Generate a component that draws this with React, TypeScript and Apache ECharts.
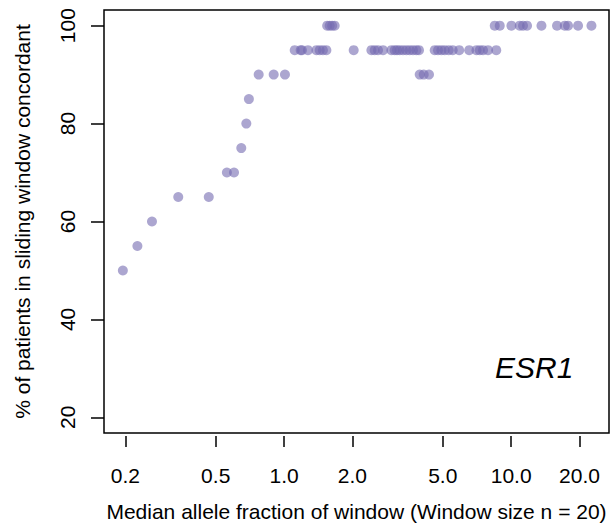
import React, { useEffect, useRef } from "react";
import * as echarts from "echarts";

// Median allele fraction (x, %) of each sliding window, grouped by % concordant (y)
const afAt50 = [0.195];
const afAt55 = [0.226];
const afAt60 = [0.262];
const afAt65 = [0.342, 0.466];
const afAt70 = [0.56, 0.602];
const afAt75 = [0.648];
const afAt80 = [0.682];
const afAt85 = [0.7];
const afAt90 = [0.773, 0.9, 1.009, 3.957, 4.121, 4.347];
const afAt95 = [
  1.114, 1.183, 1.199, 1.274, 1.388, 1.435, 1.483, 1.536, 2.026, 2.424, 2.506,
  2.593, 2.728, 2.97, 3.07, 3.143, 3.23, 3.341, 3.458, 3.575, 3.697, 3.826,
  3.929, 4.607, 4.764, 4.931, 5.099, 5.31, 5.53, 5.906, 6.537, 7.035, 7.275,
  7.522, 7.912, 8.6,
];
const afAt100 = [
  1.548, 1.588, 1.629, 1.671, 8.47, 8.91, 10.03, 10.91, 11.28, 11.75, 13.6,
  15.93, 17.23, 17.81, 19.71, 22.58,
];

const levels = [50, 55, 60, 65, 70, 75, 80, 85, 90, 95, 100];
const groups = [afAt50, afAt55, afAt60, afAt65, afAt70, afAt75, afAt80, afAt85, afAt90, afAt95, afAt100];

const xTickValues = [0.2, 0.5, 1, 2, 5, 10, 20];
const xTickLabels = ["0.2", "0.5", "1.0", "2.0", "5.0", "10.0", "20.0"];
const yTickValues = [20, 40, 60, 80, 100];

const xTitle = "Median allele fraction of window (Window size n = 20)";
const yTitle = "% of patients in sliding window concordant";
const geneLabel = "ESR1";

const FONT = '"Liberation Sans", Arial, Helvetica, sans-serif';

export default function App() {
  const ref = useRef<HTMLDivElement>(null);
  useEffect(() => {
    if (!ref.current) return;
    const chart = echarts.init(ref.current, null, { renderer: "svg" });
    const points: number[][] = [];
    groups.forEach((g, i) => {
      g.forEach((x) => points.push([Math.log10(x), levels[i]]));
    });
    points.sort((a, b) => a[0] - b[0]);
    const xTickLogs = xTickValues.map((v) => Math.log10(v));
    const fmtX = (v: number) => {
      let best = 0;
      xTickLogs.forEach((t, i) => {
        if (Math.abs(t - v) < Math.abs(xTickLogs[best] - v)) best = i;
      });
      return xTickLabels[best];
    };
    chart.setOption({
      animation: false,
      grid: {
        left: 104,
        top: 10,
        width: 505,
        height: 423,
        show: true,
        borderColor: "#000",
        borderWidth: 1.5,
        backgroundColor: "transparent",
      },
      xAxis: {
        type: "value",
        min: -0.793,
        max: 1.431,
        offset: 3,
        axisLine: { show: false, onZero: false },
        splitLine: { show: false },
        axisTick: {
          show: true,
          length: 11,
          customValues: xTickLogs,
          lineStyle: { color: "#000", width: 1.5 },
        },
        axisLabel: {
          customValues: xTickLogs,
          margin: 29,
          color: "#000",
          fontSize: 21,
          fontFamily: FONT,
          formatter: (v: number) => fmtX(v),
        },
        name: xTitle,
        nameLocation: "middle",
        nameGap: 65,
        nameTextStyle: { color: "#000", fontSize: 21, fontFamily: FONT },
      },
      yAxis: {
        type: "value",
        min: 16.8,
        max: 103.2,
        axisLine: { show: false, onZero: false },
        splitLine: { show: false },
        axisTick: {
          show: true,
          length: 13,
          customValues: yTickValues,
          lineStyle: { color: "#000", width: 1.5 },
        },
        axisLabel: {
          customValues: yTickValues,
          rotate: 90,
          margin: 26,
          color: "#000",
          fontSize: 21,
          fontFamily: FONT,
        },
        name: yTitle,
        nameLocation: "middle",
        nameRotate: 90,
        nameGap: 71,
        nameTextStyle: { color: "#000", fontSize: 21, fontFamily: FONT },
      },
      series: [
        {
          type: "scatter",
          data: points,
          symbol: "circle",
          symbolSize: 10,
          itemStyle: { color: "#756bb1", opacity: 0.6 },
        },
      ],
      graphic: [
        {
          type: "text",
          left: 495,
          top: 352,
          style: {
            text: geneLabel,
            font: `italic 30px ${FONT}`,
            fill: "#000",
          },
        },
      ],
    });
    return () => chart.dispose();
  }, []);
  return (
    <div
      ref={ref}
      style={{ position: "absolute", left: 0, top: 0, width: 611, height: 531 }}
    />
  );
}
